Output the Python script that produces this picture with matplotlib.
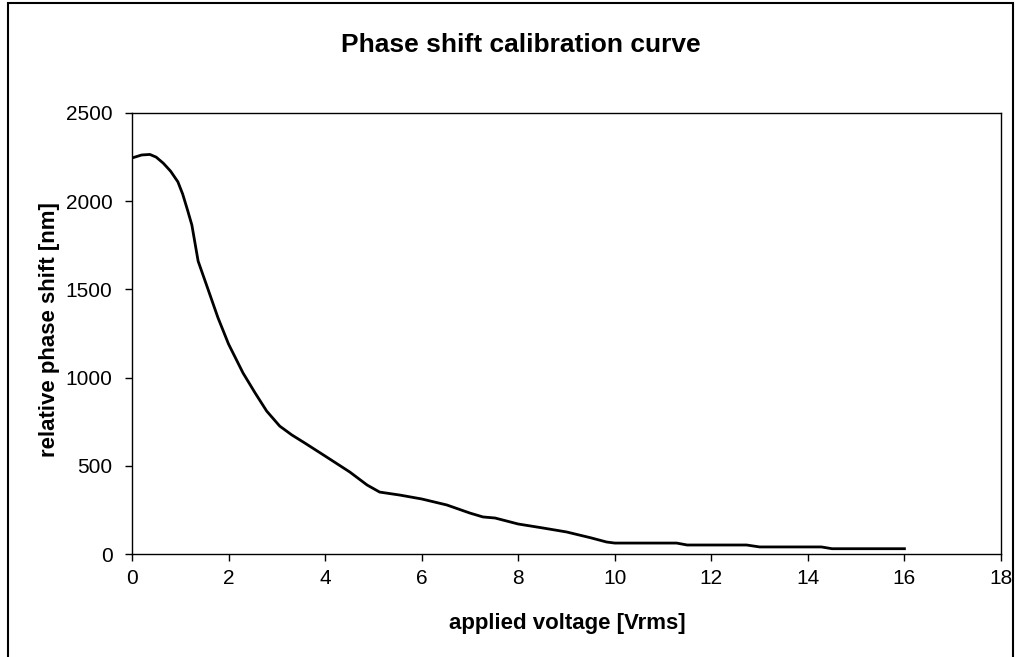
import matplotlib
matplotlib.use('Agg')
import matplotlib.pyplot as plt
from matplotlib.patches import Rectangle

plt.rcParams['font.family'] = ['Liberation Sans', 'DejaVu Sans']

# applied voltage [Vrms] and relative phase shift [nm]
voltage = [0.0, 0.2, 0.37, 0.5, 0.65, 0.8, 0.95, 1.05, 1.15, 1.24, 1.37, 1.55,
           1.78, 2.0, 2.3, 2.55, 2.79, 3.06, 3.31, 3.58, 4.03, 4.51,
           4.87, 5.13, 5.55, 6.0, 6.52, 7.0, 7.27, 7.52, 8.0, 8.5, 9.0, 9.5,
           9.83, 10.0, 11.28, 11.5, 12.73, 13.0, 14.28, 14.5, 16.0]
phase_shift = [2245, 2262, 2265, 2250, 2215, 2170, 2110, 2040, 1950, 1865,
               1660, 1520, 1340, 1190, 1026, 913, 810, 725, 675, 629,
               550, 465, 391, 351, 334, 312, 278, 232, 210, 204, 170, 148,
               125, 92, 68, 62, 62, 51, 51, 40, 40, 30, 30]

x_ticks = list(range(0, 19, 2))
y_ticks = [0, 500, 1000, 1500, 2000, 2500]

fig = plt.figure(figsize=(10.17, 6.57), dpi=100)
ax = fig.add_axes([132 / 1017, 1 - 554 / 657, 869 / 1017, 441 / 657])

ax.plot(voltage, phase_shift, color='black', linewidth=2.0)

ax.set_xlim(0, 18)
ax.set_ylim(0, 2500)
ax.set_xticks(x_ticks)
ax.set_yticks(y_ticks)
ax.tick_params(direction='out', length=5, width=1, labelsize=15)
ax.tick_params(axis='x', pad=6)
ax.tick_params(axis='y', pad=9)
for s in ax.spines.values():
    s.set_linewidth(1.0)

fig.text(0.512, 1 - 52 / 657, 'Phase shift calibration curve', ha='center',
         va='baseline', fontsize=19, fontweight='bold')
fig.text(0.5575, 1 - 629 / 657, 'applied voltage [Vrms]', ha='center',
         va='baseline', fontsize=16, fontweight='bold')
fig.text(55 / 1017, 0.499, 'relative phase shift [nm]', ha='center',
         va='baseline', rotation=90, rotation_mode='anchor',
         fontsize=16, fontweight='bold')

# outer chart border
fig.patches.append(Rectangle((8 / 1017, -0.01), 1005 / 1017, 1.0055,
                             transform=fig.transFigure, fill=False,
                             edgecolor='black', linewidth=1.5))

fig.savefig('out.png', dpi=100)
